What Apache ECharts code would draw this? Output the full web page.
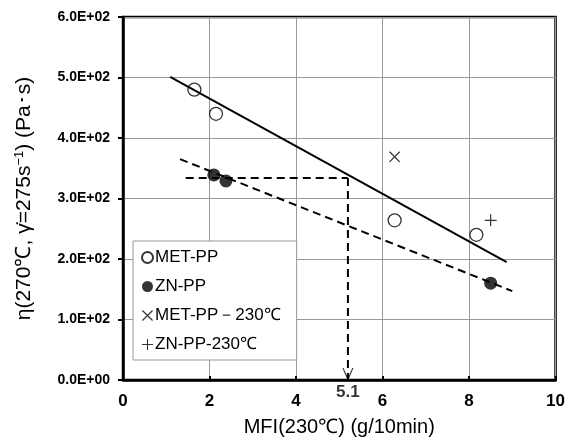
<!DOCTYPE html>
<html>
<head>
    <meta charset="utf-8">
    <title>MFI vs viscosity</title>
    <script src="https://cdn.jsdelivr.net/npm/echarts@6/dist/echarts.min.js"></script>
</head>
<body style="margin:0">
    <div id="main" style="width:568px;height:442px;"></div>
    <script type="text/javascript">
        // values: [MFI, viscosity]
        var metPP = [[1.65, 480], [2.15, 440], [6.28, 264], [8.17, 240]];
        var znPP = [[2.1, 339], [2.38, 329], [8.5, 160]];
        var metPP230 = [[6.28, 369]];
        var znPP230 = [[8.5, 264]];
        var metFit = [[1.09, 501], [8.87, 195]];
        var znFit = [[1.32, 365], [9.0, 147]];
        var guideH = [[1.45, 334], [5.2, 334]];
        var guideV = [[5.2, 334], [5.2, 0]];
        var guideLabel = '5.1';
        var xTicks = [0, 2, 4, 6, 8, 10];

        var myChart = echarts.init(document.getElementById('main'));

        function sci(v) {
            if (v === 0) return '0.0E+00';
            var e = Math.floor(Math.log10(v));
            var m = v / Math.pow(10, e);
            return m.toFixed(1) + 'E+' + (e < 10 ? '0' + e : e);
        }

        var font = '"Liberation Sans", Arial, sans-serif';
        var crossPath = 'path://M0,0.8L0.8,0 10,9.2 9.2,10z M9.2,0L10,0.8 0.8,10 0,9.2z';
        var plusPath = 'path://M4.5,0h1v10h-1z M0,4.5h10v1h-10z';
        var vPath = 'path://M0,0L1,0 5,9 9,0 10,0 5.4,11 4.6,11z';

        var option = {
            animation: false,
            textStyle: {fontFamily: font, color: '#000'},
            grid: {left: 123, right: 12, top: 17, bottom: 62, show: true,
                   borderColor: '#000', borderWidth: 2.5},
            legend: {
                orient: 'vertical', left: 133, top: 241,
                data: ['MET-PP', 'ZN-PP', 'MET-PP－230℃', 'ZN-PP-230℃'],
                itemWidth: 11, itemHeight: 11, itemGap: 12,
                padding: [8, 16, 7, 8],
                borderColor: '#999', borderWidth: 1, backgroundColor: '#fff',
                textStyle: {fontSize: 17, color: '#000', padding: [0, 0, 0, -3]}
            },
            xAxis: {
                type: 'value', min: 0, max: 10, interval: 2,
                name: 'MFI(230℃) (g/10min)', nameLocation: 'middle', nameGap: 37,
                nameTextStyle: {fontSize: 20, color: '#000'},
                axisLine: {lineStyle: {color: '#000', width: 2.5}},
                axisTick: {inside: true, length: 4, lineStyle: {color: '#000', width: 2}},
                axisLabel: {fontSize: 17, fontWeight: 'bold', color: '#000', margin: 13,
                            formatter: function (v) { return xTicks.indexOf(v) >= 0 ? v : ''; }},
                splitLine: {lineStyle: {color: '#999', width: 1}}
            },
            yAxis: {
                type: 'value', min: 0, max: 600, interval: 100,
                name: '{a|η(270℃, γ̇=275s}{s|−1}{a|) (Pa･s)}',
                nameLocation: 'middle', nameGap: 87, nameRotate: 90,
                nameTextStyle: {rich: {
                    a: {fontSize: 21, color: '#000', fontFamily: font},
                    s: {fontSize: 13, color: '#000', fontFamily: font, verticalAlign: 'top', padding: [0, 0, 10, 0]}
                }},
                axisLine: {lineStyle: {color: '#000', width: 2.5}},
                axisTick: {length: 5, lineStyle: {color: '#000', width: 2}},
                axisLabel: {fontSize: 14, fontWeight: 'bold', color: '#000', margin: 13, formatter: sci},
                splitLine: {lineStyle: {color: '#999', width: 1}}
            },
            series: [
                {name: 'metFit', type: 'line', data: metFit, symbol: 'none',
                 lineStyle: {color: '#000', width: 2}},
                {name: 'znFit', type: 'line', data: znFit, symbol: 'none',
                 lineStyle: {color: '#000', width: 2, type: [8, 5]}},
                {name: 'guideH', type: 'line', data: guideH, symbol: 'none',
                 lineStyle: {color: '#000', width: 2, type: [8, 5]}},
                {name: 'guideV', type: 'line', data: guideV, symbol: 'none',
                 lineStyle: {color: '#000', width: 2, type: [8, 5]}},
                {name: 'arrow', type: 'scatter', clip: false, data: [guideV[1]], z: 5,
                 symbol: vPath, symbolSize: [11, 12], symbolOffset: [0, -6],
                 itemStyle: {color: '#000'},
                 label: {show: true, position: 'bottom', distance: 4, formatter: guideLabel,
                         fontSize: 17, fontWeight: 'bold', color: '#000', fontFamily: font,
                         textBorderWidth: 0}},
                {name: 'MET-PP', type: 'scatter', data: metPP, symbol: 'circle', symbolSize: 13,
                 itemStyle: {color: '#fff', borderColor: '#000', borderWidth: 1.3}},
                {name: 'ZN-PP', type: 'scatter', data: znPP, symbol: 'circle', symbolSize: 13,
                 itemStyle: {color: '#000'}},
                {name: 'MET-PP－230℃', type: 'scatter', data: metPP230, symbol: crossPath, symbolSize: 11,
                 itemStyle: {color: '#000'}},
                {name: 'ZN-PP-230℃', type: 'scatter', data: znPP230, symbol: plusPath, symbolSize: 12,
                 itemStyle: {color: '#000'}}
            ]
        };

        myChart.setOption(option);
    </script>
</body>
</html>
